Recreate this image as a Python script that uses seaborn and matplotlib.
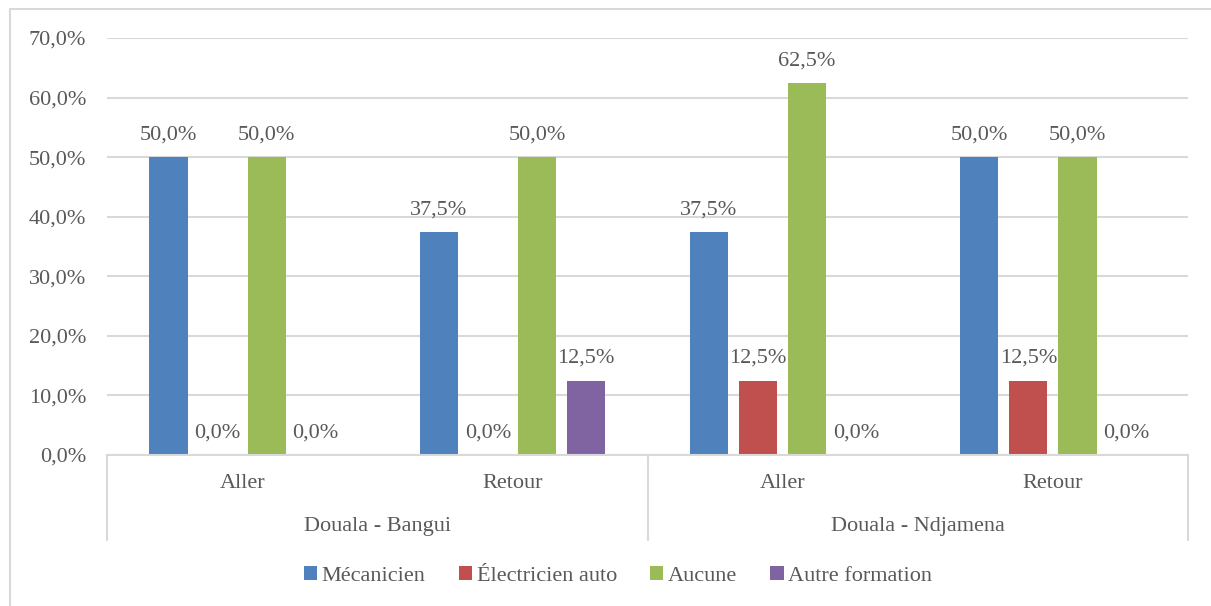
import pandas as pd
import matplotlib.pyplot as plt
import matplotlib.transforms as mtransforms
from matplotlib.lines import Line2D
from matplotlib.patches import Patch
import seaborn as sns

trajets = ["Douala - Bangui", "Douala - Bangui", "Douala - Ndjamena", "Douala - Ndjamena"]
sens = ["Aller", "Retour", "Aller", "Retour"]
formations = ["Mécanicien", "Électricien auto", "Aucune", "Autre formation"]

mecanicien = [50.0, 37.5, 37.5, 50.0]
electricien = [0.0, 0.0, 12.5, 12.5]
aucune = [50.0, 50.0, 62.5, 50.0]
autre = [0.0, 12.5, 0.0, 0.0]

colors = ["#4F81BD", "#C0504D", "#9BBB59", "#8064A2"]
text_color = "#595959"
grid_color = "#D9D9D9"

keys = [f"{t}|{s}" for t, s in zip(trajets, sens)]
rows = []
for name, vals in zip(formations, [mecanicien, electricien, aucune, autre]):
    for k, v in zip(keys, vals):
        rows.append({"cat": k, "formation": name, "pct": v})
df = pd.DataFrame(rows)

sns.set_theme(style="white")
plt.rcParams["font.family"] = ["Liberation Serif", "DejaVu Serif"]
plt.rcParams["text.color"] = text_color

fig = plt.figure(figsize=(12.11, 6.06), dpi=100)
ax = fig.add_axes([107 / 1211, 1 - 455 / 606, (1188 - 107) / 1211, (455 - 38) / 606])

sns.barplot(data=df, x="cat", y="pct", hue="formation", order=keys,
            hue_order=formations, palette=colors, saturation=1,
            width=0.726, gap=0.22, errorbar=None, legend=False,
            linewidth=0, edgecolor="none", ax=ax)

for cont in ax.containers:
    ax.bar_label(cont, labels=[f"{b.get_height():.1f}%".replace(".", ",") for b in cont],
                 padding=9, fontsize=16, color=text_color)

ax.set_ylim(0, 70)
ax.set_xlim(-0.5, 3.5)
ax.set_yticks(range(0, 71, 10))
ax.set_yticklabels([f"{v},0%" for v in range(0, 71, 10)])
ax.yaxis.grid(True, color=grid_color, lw=1.5)
ax.set_axisbelow(True)
ax.tick_params(axis="y", length=0, pad=15, labelsize=16, labelcolor=text_color)
ax.tick_params(axis="x", length=0, pad=14, labelsize=16, labelcolor=text_color)
ax.set_xticks(range(4))
ax.set_xticklabels(sens)
ax.set_xlabel("")
ax.set_ylabel("")
for side in ["top", "right", "left"]:
    ax.spines[side].set_visible(False)
ax.spines["bottom"].set_color(grid_color)
ax.spines["bottom"].set_linewidth(1.5)

# multi-level category axis
trans = mtransforms.blended_transform_factory(ax.transData, ax.transAxes)
drop = -(540 - 455) / (455 - 38)
for x in [-0.5, 1.5, 3.5]:
    ax.add_line(Line2D([x, x], [0, drop], transform=trans, color=grid_color,
                       lw=1.5, clip_on=False))
group_y = -(527 - 455) / (455 - 38)
for x, name in [(0.5, "Douala - Bangui"), (2.5, "Douala - Ndjamena")]:
    ax.text(x, group_y, name, transform=trans, ha="center", va="center",
            fontsize=16, color=text_color)

# chart border
fig.add_artist(Line2D([10 / 1211, 1.0], [1 - 9 / 606] * 2, transform=fig.transFigure,
                      color=grid_color, lw=1.5))
fig.add_artist(Line2D([10 / 1211] * 2, [0, 1 - 9 / 606], transform=fig.transFigure,
                      color=grid_color, lw=1.5))

handles = [Patch(facecolor=c, edgecolor="none") for c in colors]
fig.legend(handles, formations, loc="center", bbox_to_anchor=(618 / 1211, 1 - 576 / 606),
           ncol=4, frameon=False, fontsize=16, handlelength=0.6, handleheight=0.6,
           handletextpad=0.2, columnspacing=1.5, labelcolor=text_color)

fig.savefig("out.png", dpi=100)
